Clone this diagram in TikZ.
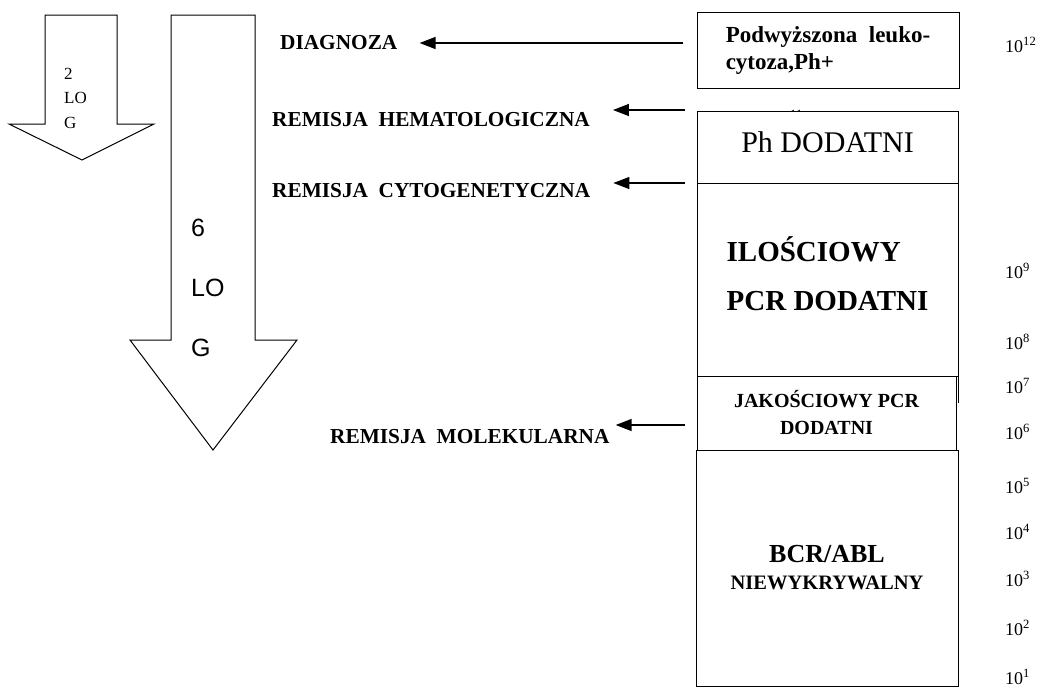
\documentclass[tikz,border=0pt]{standalone}
\usepackage{fontspec}
\setmainfont{Liberation Serif}
\newfontfamily\arialfont{Liberation Sans}
\usepackage{tikz}
\usetikzlibrary{arrows.meta,positioning}
\tikzstyle{arrow} = [line width=1.4pt,-{Triangle[length=16pt,width=12pt]}]
\tikzstyle{stage} = [draw=black, line width=1pt, fill=white, inner sep=0pt, align=center]

\begin{document}
\begin{tikzpicture}[x=1pt,y=-1pt,
		remis/.style={font=\bfseries\fontsize{21.3}{24}\selectfont, anchor=west, inner sep=0pt},
		power/.style={font=\fontsize{18}{20}\selectfont, anchor=west, inner sep=0pt},
		fat/.style={draw=black, line width=1pt, fill=white}]
	\useasboundingbox (0,0) rectangle (1040,689);

	% log arrows
	\draw[fat] (45,15) -- (117,15) -- (117,124) -- (154,124) -- (82,160) -- (9,124) -- (45,124) -- cycle;
	\draw[fat] (171,15) -- (255,15) -- (255,340) -- (297,340) -- (213,450) -- (130,340) -- (171,340) -- cycle;
	\node[anchor=west, inner sep=0pt, align=left, font=\fontsize{17}{24.5}\selectfont] (twolog) at (64,98) {2\\LO\\G};
	\node[anchor=west, inner sep=0pt, align=left, font=\arialfont\fontsize{25}{60}\selectfont] (sixlog) at (191,288) {6\\LO\\G};

	% powers of ten
	\node[power] (p11) at (772,118) {10\textsuperscript{11}};
	\foreach \e/\y in {12/45, 9/271, 8/342, 7/386, 6/432, 5/486, 4/532, 3/579, 2/628, 1/677}
		\node[power] (p\e) at (1005,\y) {10\textsuperscript{\e}};

	% stages
	\node[stage, minimum width=262pt, minimum height=76pt, align=left, font=\bfseries\fontsize{23}{27}\selectfont] (leuko) at (828,50) {Podwyższona\ \ leuko-\\cytoza,Ph+};
	\node[stage, minimum width=261pt, minimum height=72pt, font=\fontsize{30}{32}\selectfont] (phpos) at (827.5,147) {Ph DODATNI\rule[-10pt]{0pt}{1pt}};
	\node[stage, minimum width=261pt, minimum height=193pt, align=left, font=\bfseries\fontsize{29}{49}\selectfont] (ilosc) at (827.5,279.5) {ILOŚCIOWY\\PCR DODATNI\rule[-12pt]{0pt}{1pt}};
	\draw[line width=1pt] (ilosc.south east) -- ++(0,26);
	\node[stage, minimum width=259pt, minimum height=74pt, font=\bfseries\fontsize{20}{27}\selectfont] (jako) at (826.5,413) {JAKOŚCIOWY PCR\\DODATNI};
	\node[stage, minimum width=262pt, minimum height=236pt, font=\bfseries\fontsize{26}{27}\selectfont] (bcr) at (827,568) {BCR/ABL\\{\fontsize{20.5}{24}\selectfont NIEWYKRYWALNY}};

	% remissions
	\node[remis] (diag) at (280,43) {DIAGNOZA};
	\node[remis] (hemat) at (272,120) {REMISJA\ \ HEMATOLOGICZNA};
	\node[remis] (cyto) at (272,191) {REMISJA\ \ CYTOGENETYCZNA};
	\node[remis] (molek) at (330,437) {REMISJA\ \ MOLEKULARNA};

	\coordinate (diagFrom) at (683,43);
	\coordinate (hematFrom) at (685,110);
	\coordinate (cytoFrom) at (685,183);
	\coordinate (molekFrom) at (685,425);
	\draw[arrow, shorten >=22pt] (diagFrom) -- (diagFrom -| diag.east);
	\draw[arrow, shorten >=23pt] (hematFrom) -- (hematFrom -| hemat.east);
	\draw[arrow, shorten >=23pt] (cytoFrom) -- (cytoFrom -| cyto.east);
	\draw[arrow, shorten >=6pt] (molekFrom) -- (molekFrom -| molek.east);
\end{tikzpicture}
\end{document}
